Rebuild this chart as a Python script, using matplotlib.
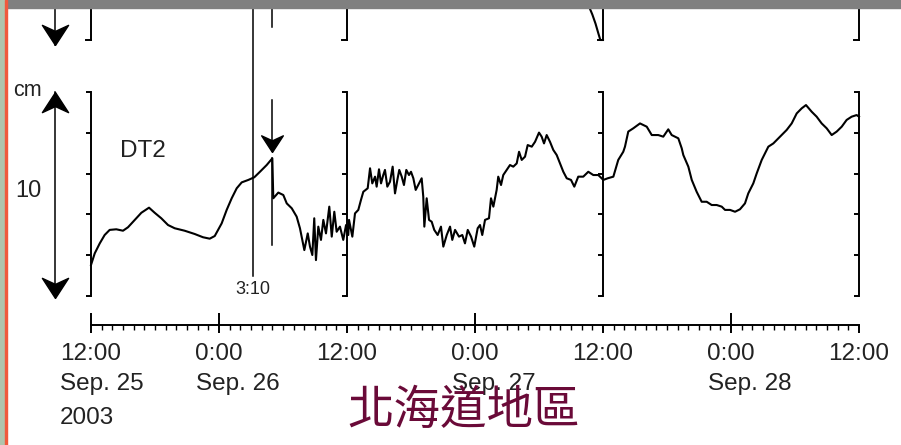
import matplotlib.pyplot as plt
import numpy as np
from matplotlib.path import Path
from matplotlib.patches import Rectangle
from matplotlib.ticker import MultipleLocator

plt.rcParams['font.family'] = ['Liberation Sans', 'DejaVu Sans']

# DT2 water level, hours after 2003-09-25 12:00 (cm)
hours = [0.0, 0.35, 0.82, 1.28, 1.75, 2.37, 3.0, 3.47, 4.10, 4.72, 5.44, 5.97,
         6.59, 7.22, 7.85, 8.78, 9.72, 10.5, 11.13, 11.6, 12.0, 12.25, 12.72,
         13.19, 13.66, 14.13, 14.75, 15.31, 15.84, 16.47, 17.0, 17.09, 17.56,
         18.03, 18.35, 18.82, 19.28, 19.59, 19.81, 20.0, 20.32, 20.53, 20.75,
         20.93, 21.09, 21.31, 21.56, 21.78, 22.03, 22.34, 22.57, 22.81, 23.03,
         23.34, 23.65, 23.91, 24.12, 24.19, 24.5, 24.75, 25.06, 25.31, 25.53,
         25.94, 26.16, 26.37, 26.63, 26.78, 27.0, 27.19, 27.4, 27.56, 27.78,
         28.03, 28.28, 28.5, 28.72, 28.9, 29.13, 29.34, 29.56, 29.81, 30.0,
         30.22, 30.44, 30.68, 31.0, 31.15, 31.25, 31.47, 31.69, 31.94, 32.18,
         32.5, 32.81, 33.03, 33.35, 33.66, 33.87, 34.13, 34.5, 34.81, 35.06,
         35.32, 35.63, 35.93, 36.25, 36.47, 36.68, 36.94, 37.31, 37.5, 37.72,
         38.03, 38.18, 38.44, 38.65, 38.97, 39.28, 39.59, 39.91, 40.13, 40.38,
         40.69, 40.94, 41.32, 41.63, 42.0, 42.25, 42.47, 42.72, 43.03, 43.34,
         43.66, 43.97, 44.28, 44.6, 45.0, 45.31, 45.68, 46.15, 46.62, 47.09,
         47.56, 48.03, 48.44, 48.97, 49.43, 49.9, 50.06, 50.37, 50.84, 51.47,
         52.1, 52.57, 53.18, 53.65, 54.12, 54.44, 55.06, 55.38, 55.53, 56.0,
         56.32, 56.78, 57.25, 57.72, 58.19, 58.66, 59.13, 59.44, 59.91, 60.38,
         60.84, 61.31, 61.62, 62.09, 62.41, 62.88, 63.35, 63.5, 63.97, 64.59,
         65.22, 65.69, 66.16, 66.63, 67.03, 67.57, 68.03, 68.5, 68.97, 69.44,
         69.91, 70.38, 70.84, 71.31, 71.78, 72.0]
level_cm = [1.52, 2.09, 2.58, 2.99, 3.24, 3.27, 3.20, 3.37, 3.73, 4.08, 4.33, 4.08,
            3.81, 3.48, 3.32, 3.20, 3.04, 2.88, 2.81, 2.94, 3.32, 3.56, 4.22,
            4.79, 5.28, 5.57, 5.69, 5.82, 6.09, 6.42, 6.75, 4.79, 5.07,
            4.95, 4.54, 4.30, 3.89, 3.32, 2.75, 2.25, 3.07, 2.42, 2.01,
            3.81, 1.76, 3.40, 2.75, 3.73, 3.07, 4.38, 2.91, 4.13, 3.15,
            3.40, 2.75, 3.48, 2.99, 3.73, 2.91, 4.05, 4.22, 4.71, 5.11,
            5.28, 6.26, 5.52, 5.85, 5.36, 6.21, 5.52, 5.93, 6.18, 5.36,
            5.60, 6.34, 5.03, 5.69, 6.18, 5.85, 5.44, 6.18, 5.93, 6.09,
            5.77, 5.20, 5.44, 5.77, 4.87, 3.40, 4.79, 3.73, 3.64, 3.24,
            2.99, 3.40, 2.42, 2.99, 3.40, 2.75, 3.24, 2.91, 2.99, 2.58,
            3.24, 2.91, 2.42, 3.32, 3.48, 2.99, 3.73, 3.81, 4.79, 4.38,
            5.20, 5.85, 5.44, 5.93, 6.18, 6.42, 6.34, 6.50, 7.07, 6.67,
            6.83, 7.40, 7.32, 7.56, 8.01, 7.81, 7.48, 7.89, 7.56, 7.16,
            6.91, 6.50, 6.09, 5.77, 5.69, 5.36, 5.85, 5.85, 6.09, 5.93,
            5.93, 5.69, 5.77, 5.85, 6.67, 7.07, 7.32, 8.06, 8.22, 8.46,
            8.30, 7.89, 7.89, 7.81, 8.17, 7.89, 7.73, 7.24, 6.91, 6.34,
            5.69, 5.11, 4.62, 4.62, 4.46, 4.46, 4.38, 4.22, 4.22, 4.13,
            4.25, 4.54, 5.03, 5.52, 6.01, 6.67, 7.16, 7.32, 7.48, 7.81,
            8.14, 8.46, 8.95, 9.20, 9.36, 9.03, 8.79, 8.46, 8.22, 7.89,
            8.06, 8.30, 8.63, 8.79, 8.87, 8.79]

# lower end of the trace in the panel above
upper_hours = [46.6, 47.0, 47.3, 47.55, 47.75, 48.0]
upper_cm = [1.75, 1.25, 0.8, 0.35, 0.0, 0.0]

tick_hours = [0, 12, 24, 36, 48, 60, 72]
tick_labels = ['12:00', '0:00', '12:00', '0:00', '12:00', '0:00', '12:00']
day_hours = [0, 12, 36, 60]
day_labels = ['Sep. 25', 'Sep. 26', 'Sep. 27', 'Sep. 28']
year_label = '2003'
panel_hours = [0, 24, 48, 72]
quake_hour = 15 + 10 / 60
arrival_hour = 17.0
scale_cm = 10

W, H = 901, 445
X0, X1 = 91, 859      # pixel columns of 0 h and 72 h
Y0, Y10 = 296, 92     # pixel rows of 0 cm and 10 cm
px_cm = (Y0 - Y10) / scale_cm
top_base = (Y0 - 40) / px_cm   # baseline of the upper panel
lw = 1.4

fig = plt.figure(figsize=(W / 100, H / 100), dpi=100)
ax = fig.add_axes([X0 / W, 1 - Y0 / H, (X1 - X0) / W, (Y0 - Y10) / H])
ax.set_xlim(0, 72)
ax.set_ylim(0, scale_cm)
ax.axis('off')

# stealth-style arrow heads, tip at the marker origin
head_down = Path([(0, 0), (-0.65, 1), (0, 0.7), (0.65, 1), (0, 0)])
head_up = Path([(0, 0), (-0.65, -1), (0, -0.7), (0.65, -1), (0, 0)])

kw = dict(color='black', clip_on=False)

# brackets of both panels
tick_w = 5 / ((X1 - X0) / 72)
for h in panel_hours:
    ax.plot([h, h], [0, scale_cm], lw=lw, **kw)
    ax.hlines(np.arange(0, scale_cm + 1, 2), h - tick_w, h, lw=lw, **kw)
    ax.plot([h, h], [top_base, top_base + 5], lw=lw, **kw)
    ax.plot([h - tick_w, h], [top_base, top_base], lw=lw, **kw)

# tide records
ax.plot(hours, level_cm, lw=1.5, **kw)
ax.plot(upper_hours, top_base + np.array(upper_cm), lw=1.5, **kw)

# earthquake time
ax.plot([quake_hour, quake_hour], [(Y0 - 276) / px_cm, top_base + 5], lw=1.1, **kw)
ax.text(quake_hour, (Y0 - 290) / px_cm, '3:10', ha='center', va='center',
        fontsize=13, color='#222222')

# first arrival
ax.plot([arrival_hour, arrival_hour], [2.5, 6.75], lw=1.1, **kw)
ax.plot([arrival_hour, arrival_hour], [top_base + 0.64, top_base + 5], lw=1.1, **kw)
ax.plot([arrival_hour, arrival_hour], [9.61, 7.1], lw=1.1, **kw)
ax.plot(arrival_hour, 7.06, marker=head_down, ms=24, **kw)

# 10 cm scale and the arrow for the upper panel
xs = -36 / ((X1 - X0) / 72)
ax.plot([xs, xs], [0, scale_cm], lw=1.1, **kw)
ax.plot(xs, scale_cm, marker=head_up, ms=29, **kw)
ax.plot(xs, -0.1, marker=head_down, ms=29, **kw)
ax.plot([xs, xs], [top_base - 0.25, top_base + 5], lw=1.1, **kw)
ax.plot(xs, top_base - 0.25, marker=head_down, ms=29, **kw)

ax.text(-6.0, 10.05, 'cm', ha='center', va='center', fontsize=15.5, color='#222222')
ax.text(-5.9, 5.17, str(scale_cm), ha='center', va='center', fontsize=17, color='#222222')
ax.text(2.72, 7.1, 'DT2', ha='left', va='center', fontsize=17.5, color='#222222')

# time axis
axt = fig.add_axes([X0 / W, 1 - 325 / H, (X1 - X0) / W, 0.0001])
axt.patch.set_visible(False)
axt.set_xlim(0, 72)
for s in ['top', 'left', 'right']:
    axt.spines[s].set_visible(False)
axt.spines['bottom'].set_linewidth(lw)
axt.yaxis.set_visible(False)
axt.set_xticks(tick_hours)
axt.set_xticklabels(tick_labels, fontsize=17.5, color='#222222')
axt.xaxis.set_minor_locator(MultipleLocator(1))
axt.tick_params(which='major', direction='out', length=5.8, width=lw, pad=7)
axt.tick_params(which='minor', direction='out', length=3.6, width=1)
sec = axt.secondary_xaxis('bottom')
sec.spines['bottom'].set_visible(False)
sec.set_xticks(day_hours)
sec.tick_params(direction='in', length=8.6, width=lw, labelbottom=False)

for h, lab in zip(day_hours, day_labels):
    dx = -31 if h == 0 else -23
    axt.annotate(lab, xy=(h, 0), xycoords=('data', 'axes fraction'),
                 xytext=(dx, -59), textcoords='offset pixels',
                 ha='left', va='center', fontsize=17.5, color='#222222')
axt.annotate(year_label, xy=(day_hours[0], 0), xycoords=('data', 'axes fraction'),
             xytext=(-31, -93), textcoords='offset pixels',
             ha='left', va='center', fontsize=17.5, color='#222222')

fig.text(463.5 / W, 1 - 411 / H, '北海道地區', ha='center', va='center',
         fontsize=33.5, fontweight='light', color='#6a0a38',
         family=['Noto Sans CJK TC', 'DejaVu Sans'])

# window frame
fig.add_artist(Rectangle((0, 1 - 8 / H), 1, 8 / H, transform=fig.transFigure,
                         color='#808080', zorder=10))
fig.add_artist(Rectangle((0, 0), 5 / W, 1, transform=fig.transFigure,
                         color='#b0c4ac', zorder=10))
fig.add_artist(Rectangle((5 / W, 0), 2 / W, 1, transform=fig.transFigure,
                         color='#f05a3c', zorder=10))

fig.savefig('out.png', dpi=100)
